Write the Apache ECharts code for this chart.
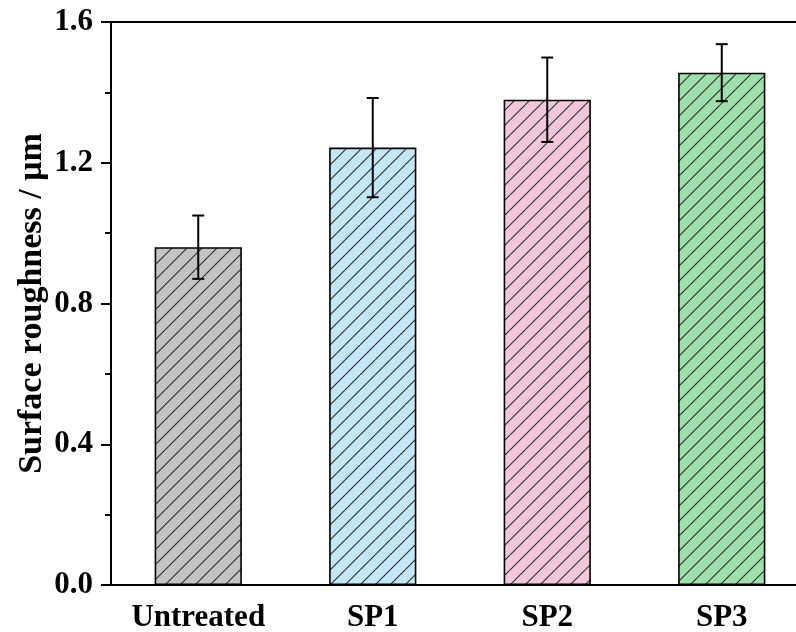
<!DOCTYPE html>
<html>
<head>
<meta charset="utf-8">
<script src="https://cdn.jsdelivr.net/npm/echarts@6/dist/echarts.min.js"></script>
<style>html,body{margin:0;padding:0;background:#fff}#c{width:796px;height:632px}</style>
</head>
<body>
<div id="c"></div>
<script>
const categories = ['Untreated', 'SP1', 'SP2', 'SP3'];
const values = [0.96, 1.243, 1.379, 1.456];
const errors = [0.09, 0.141, 0.12, 0.081];
const barColors = ['#c3c3c3', '#c3e7f6', '#f3c7da', '#9fdfac'];
const yTicks = [0, 0.4, 0.8, 1.2, 1.6];

function hatch(bg) {
  const s = 15;
  const cv = document.createElement('canvas');
  cv.width = s; cv.height = s;
  const g = cv.getContext('2d');
  g.fillStyle = bg; g.fillRect(0, 0, s, s);
  g.strokeStyle = '#2a2a2a'; g.lineWidth = 1.1;
  for (const k of [-s, 0, s]) {
    g.beginPath(); g.moveTo(k, s); g.lineTo(k + s, 0); g.stroke();
  }
  return { image: cv, repeat: 'repeat' };
}

const font = '"Liberation Serif", "Times New Roman", serif';
const chart = echarts.init(document.getElementById('c'), null, { renderer: 'canvas' });
chart.setOption({
  animation: false,
  grid: { left: 111, top: 22, width: 698, height: 563, outerBoundsMode: 'none', containLabel: false, show: true, borderColor: '#000', borderWidth: 2, backgroundColor: 'transparent' },
  xAxis: [{
    type: 'category', data: categories, position: 'bottom',
    axisLine: { lineStyle: { color: '#000', width: 2 } },
    axisTick: { alignWithLabel: true, length: 10, lineStyle: { color: '#000', width: 2 } },
    axisLabel: { color: '#000', fontFamily: font, fontWeight: 'bold', fontSize: 31, margin: 17 }
  }, {
    type: 'category', data: categories, position: 'bottom', gridIndex: 0,
    axisLine: { show: false },
    axisTick: { length: 5, lineStyle: { color: '#000', width: 2 } },
    axisLabel: { show: false }
  }],
  yAxis: {
    type: 'value', min: yTicks[0], max: yTicks[yTicks.length - 1], interval: 0.4,
    name: 'Surface roughness / μm', nameLocation: 'middle', nameGap: 62, nameMoveOverlap: false,
    nameTextStyle: { color: '#000', fontFamily: font, fontWeight: 'bold', fontSize: 34 },
    axisLine: { show: true, lineStyle: { color: '#000', width: 2 } },
    axisTick: { show: true, length: 10, lineStyle: { color: '#000', width: 2 } },
    minorTick: { show: true, splitNumber: 2, length: 6, lineStyle: { color: '#000', width: 2 } },
    splitLine: { show: false },
    axisLabel: { color: '#000', fontFamily: font, fontWeight: 'bold', fontSize: 31, margin: 18, formatter: v => v.toFixed(1) }
  },
  series: [{
    type: 'bar', barWidth: '50%',
    data: values.map((v, i) => ({ value: v, itemStyle: { color: hatch(barColors[i]), borderColor: '#000', borderWidth: 1.6 } }))
  }, {
    type: 'custom',
    data: values.map((v, i) => [i, v - errors[i], v + errors[i]]),
    renderItem: function (params, api) {
      const x = api.coord([api.value(0), 0])[0];
      const lo = api.coord([api.value(0), api.value(1)])[1];
      const hi = api.coord([api.value(0), api.value(2)])[1];
      const w = 6;
      const st = { stroke: '#000', lineWidth: 2 };
      return { type: 'group', children: [
        { type: 'line', shape: { x1: x, y1: lo, x2: x, y2: hi }, style: st },
        { type: 'line', shape: { x1: x - w, y1: hi, x2: x + w, y2: hi }, style: st },
        { type: 'line', shape: { x1: x - w, y1: lo, x2: x + w, y2: lo }, style: st }
      ] };
    },
    z: 10
  }]
});
</script>
</body>
</html>
